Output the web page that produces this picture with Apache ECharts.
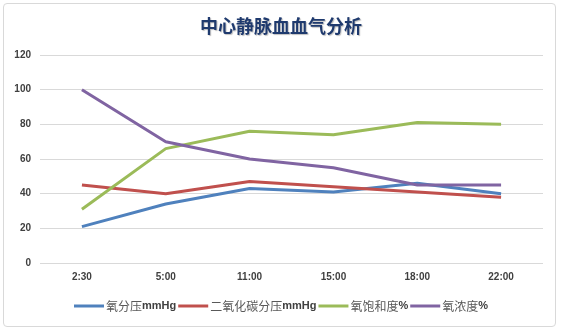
<!DOCTYPE html>
<html>
<head>
<meta charset="utf-8">
<script src="https://cdn.jsdelivr.net/npm/echarts@6/dist/echarts.min.js"></script>
<style>
  html, body { margin: 0; padding: 0; background: #fff; }
  #frame { position: absolute; left: 3px; top: 3px; width: 553px; height: 324px;
           border: 1px solid #D9D9D9; border-radius: 4px; box-sizing: border-box; }
  #chart { position: absolute; left: 0; top: 0; width: 562px; height: 331px; }
</style>
</head>
<body>
<div id="frame"></div>
<div id="chart"></div>
<script>
const categories = ['2:30', '5:00', '11:00', '15:00', '18:00', '22:00'];
const oxygenPressure = [21, 34, 43, 41, 46, 40];
const co2Pressure = [45, 40, 47, 44, 41, 38];
const oxygenSaturation = [31, 66, 76, 74, 81, 80];
const oxygenConcentration = [100, 70, 60, 55, 45, 45];
const seriesNames = ['氧分压mmHg', '二氧化碳分压mmHg', '氧饱和度%', '氧浓度%'];
const seriesColors = ['#4F81BD', '#C0504D', '#9BBB59', '#8064A2'];
const yTicks = { min: 0, max: 120, interval: 20 };

const chart = echarts.init(document.getElementById('chart'));
const seriesData = [oxygenPressure, co2Pressure, oxygenSaturation, oxygenConcentration];

// Split legend names into the CJK part and the bold unit suffix
function legendLabel(name) {
  const m = name.match(/^(.*?)(mmHg|%)$/);
  return m ? '{cn|' + m[1] + '}{unit|' + m[2] + '}' : name;
}

chart.setOption({
  animation: false,
  title: {
    text: '中心静脉血血气分析',
    left: 'center',
    top: 12,
    textStyle: {
      fontFamily: 'Noto Sans CJK SC',
      fontSize: 18,
      fontWeight: 'bold',
      color: '#1F3A6E',
      textShadowColor: 'rgba(0,0,0,0.25)',
      textShadowBlur: 1,
      textShadowOffsetX: 1,
      textShadowOffsetY: 1
    }
  },
  legend: {
    bottom: 14,
    left: 'center',
    itemWidth: 30,
    itemHeight: 3,
    itemGap: 2,
    icon: 'rect',
    formatter: legendLabel,
    textStyle: {
      color: '#595959',
      padding: [0, 0, 0, -3],
      rich: {
        cn: { fontFamily: 'Noto Sans CJK SC', fontSize: 12, color: '#595959' },
        unit: { fontFamily: 'Liberation Sans', fontSize: 11, fontWeight: 'bold', color: '#404040' }
      }
    },
    data: seriesNames
  },
  grid: { left: 40, right: 19, top: 55, bottom: 68, containLabel: false },
  xAxis: {
    type: 'category',
    data: categories,
    boundaryGap: true,
    axisLine: { show: false },
    axisTick: { show: false },
    axisLabel: { color: '#404040', fontSize: 10, fontFamily: 'Liberation Sans', fontWeight: 'bold', margin: 9 }
  },
  yAxis: {
    type: 'value',
    min: yTicks.min,
    max: yTicks.max,
    interval: yTicks.interval,
    axisLine: { show: false },
    axisTick: { show: false },
    axisLabel: { color: '#404040', fontSize: 10, fontFamily: 'Liberation Sans', fontWeight: 'bold', margin: 9 },
    splitLine: { lineStyle: { color: '#D9D9D9', width: 1 } }
  },
  series: seriesNames.map((name, i) => ({
    name: name,
    type: 'line',
    data: seriesData[i],
    symbol: 'none',
    color: seriesColors[i],
    lineStyle: { width: 3, color: seriesColors[i] }
  }))
});
</script>
</body>
</html>
